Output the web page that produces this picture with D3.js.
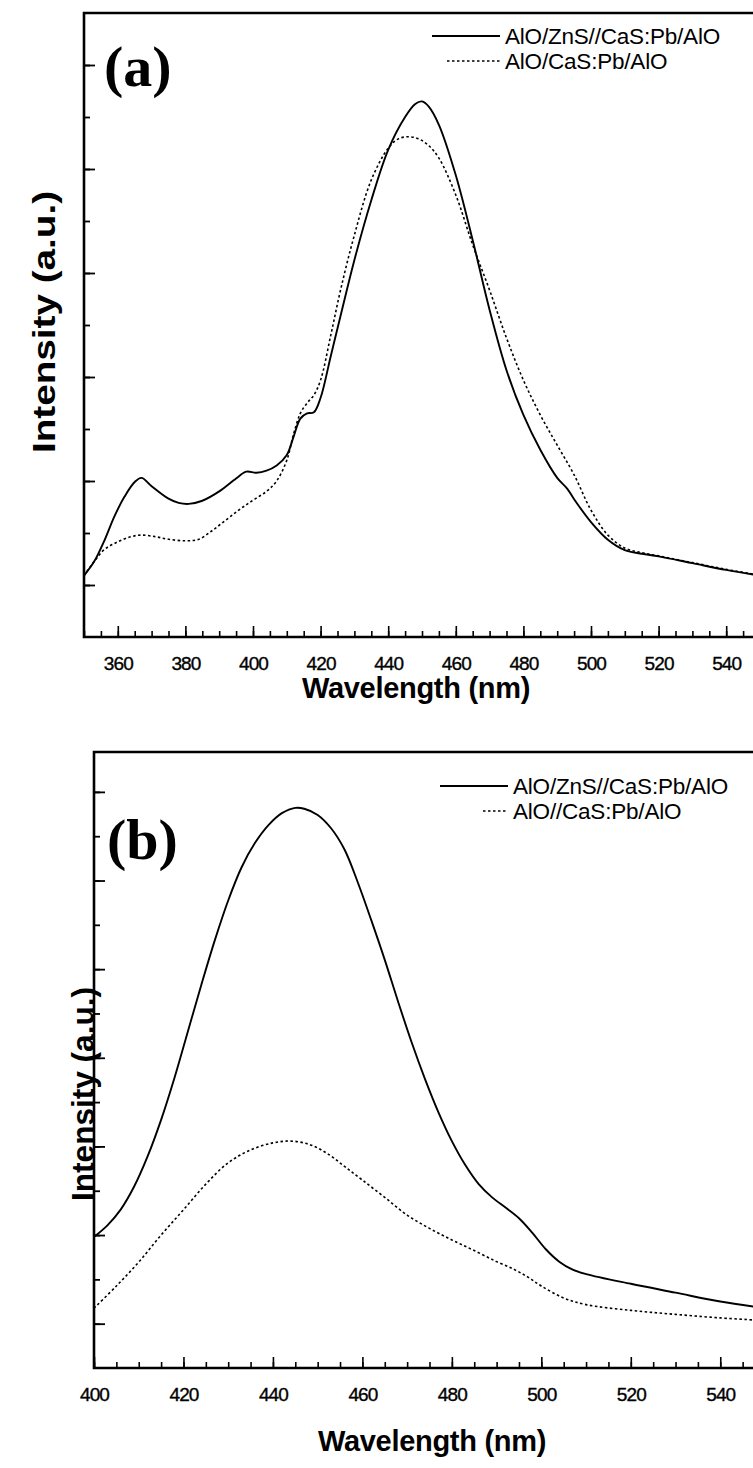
<!DOCTYPE html>
<html>
<head>
<meta charset="utf-8">
<script src="https://cdn.jsdelivr.net/npm/d3@7"></script>
<style>
  body { margin: 0; background: #fff; }
  svg { display: block; }
  text { font-family: "Liberation Sans", Arial, sans-serif; fill: #000; }
</style>
</head>
<body>
<svg id="chart" width="753" height="1468"></svg>
<script>
// panel (a)
const nmA      = [350,353,356,359,362,365,367,370,375,378,381,385,390,395,398,401,404,407,410,412,414,416,418,420,423,426,430,435,440,445,448,450,452,455,460,465,470,475,480,485,490,493,495,500,505,510,515,520,530,540,550];
const solidA   = [0.118,0.145,0.185,0.232,0.270,0.298,0.306,0.290,0.266,0.258,0.256,0.262,0.280,0.305,0.318,0.316,0.320,0.330,0.350,0.385,0.420,0.430,0.432,0.460,0.540,0.620,0.725,0.840,0.937,1.000,1.025,1.030,1.020,0.985,0.888,0.763,0.629,0.513,0.427,0.360,0.306,0.285,0.265,0.221,0.187,0.167,0.160,0.155,0.142,0.129,0.118];
const nmA2     = [350,353,356,360,364,367,371,375,380,384,388,392,396,400,404,407,410,412,414,416,418,420,423,426,430,435,440,443,446,449,452,455,460,465,470,475,480,485,490,495,500,505,510,515,520,530,540,550];
const dashedA  = [0.118,0.145,0.168,0.183,0.193,0.196,0.193,0.188,0.185,0.188,0.205,0.225,0.245,0.263,0.280,0.300,0.340,0.390,0.430,0.450,0.465,0.494,0.580,0.670,0.773,0.879,0.940,0.958,0.962,0.958,0.945,0.921,0.850,0.754,0.667,0.575,0.494,0.427,0.369,0.312,0.244,0.196,0.171,0.162,0.156,0.143,0.130,0.119];
const ticksA   = [360,380,400,420,440,460,480,500,520,540];
const legendA  = ["AlO/ZnS//CaS:Pb/AlO", "AlO/CaS:Pb/AlO"];

// panel (b)
const nmB      = [400,403,406,409,412,415,418,421,424,427,430,433,436,439,442,445,447,450,453,456,459,462,465,468,471,474,477,480,483,486,489,492,495,498,501,504,507,510,520,530,540,550];
const solidB   = [0.296,0.322,0.358,0.410,0.478,0.560,0.655,0.760,0.865,0.965,1.055,1.130,1.185,1.225,1.252,1.264,1.262,1.248,1.218,1.170,1.095,1.010,0.921,0.826,0.735,0.652,0.577,0.512,0.458,0.415,0.385,0.362,0.338,0.305,0.268,0.240,0.222,0.212,0.190,0.170,0.150,0.135];
const nmB2     = [400,405,410,415,420,425,430,435,440,444,448,452,456,460,465,470,475,480,485,490,494,497,500,505,510,520,530,540,550];
const dashedB  = [0.135,0.185,0.239,0.300,0.357,0.415,0.463,0.492,0.508,0.512,0.505,0.485,0.455,0.424,0.385,0.345,0.315,0.289,0.265,0.240,0.222,0.205,0.185,0.158,0.143,0.130,0.121,0.113,0.107];
const ticksB   = [400,420,440,460,480,500,520,540];
const legendB  = ["AlO/ZnS//CaS:Pb/AlO", "AlO//CaS:Pb/AlO"];

const svg = d3.select("#chart");

function drawPanel(p) {
    const x = d3.scaleLinear().domain(p.xDomain).range([p.left, p.right]);
    const y = d3.scaleLinear().domain([0, p.yMax]).range([p.bottom, p.top]);
    const g = svg.append("g");

    // minor x ticks (5 nm), pointing into the plot
    g.append("g")
        .attr("transform", `translate(0,${p.bottom})`)
        .call(d3.axisBottom(x).tickValues(d3.range(p.xDomain[0], p.xDomain[1] + 1, 5)).tickSizeInner(-6).tickSizeOuter(0).tickFormat(""))
        .call(a => a.select(".domain").remove())
        .selectAll("line").attr("stroke-width", 1.6);

    // major x ticks with labels
    g.append("g")
        .attr("transform", `translate(0,${p.bottom})`)
        .call(d3.axisBottom(x).tickValues(p.ticks).tickSizeInner(-11).tickSizeOuter(0).tickPadding(20))
        .call(a => a.select(".domain").remove())
        .call(a => a.selectAll("line").attr("stroke-width", 1.6))
        .call(a => a.selectAll("text")
            .attr("font-size", 19).attr("letter-spacing", -0.9)
            .attr("stroke", "#000").attr("stroke-width", 0.35)
            .style("font-family", "'Liberation Sans', Arial, sans-serif"));

    // y ticks: every 0.1, majors on odd tenths
    const yt = d3.range(0.1, p.yMax - 0.01, 0.1);
    g.append("g")
        .attr("transform", `translate(${p.left},0)`)
        .call(d3.axisLeft(y).tickValues(yt).tickSizeInner(-6).tickSizeOuter(0).tickFormat(""))
        .call(a => a.select(".domain").remove())
        .selectAll("line").attr("stroke-width", 1.8);
    g.append("g")
        .attr("transform", `translate(${p.left},0)`)
        .call(d3.axisLeft(y).tickValues(yt.filter((d, i) => i % 2 === 0)).tickSizeInner(-11).tickSizeOuter(0).tickFormat(""))
        .call(a => a.select(".domain").remove())
        .selectAll("line").attr("stroke-width", 1.8);

    // frame (right side falls outside the picture)
    g.append("path")
        .attr("d", `M${p.right + 10},${p.top}H${p.left}V${p.bottom}H${p.right + 10}`)
        .attr("fill", "none").attr("stroke", "#000").attr("stroke-width", 2.6);

    const line = d3.line().x(d => x(d[0])).y(d => y(d[1])).curve(d3.curveCatmullRom.alpha(0.5));

    g.append("path")
        .datum(d3.zip(p.nm2, p.dashed))
        .attr("d", line)
        .attr("fill", "none").attr("stroke", "#000").attr("stroke-width", 1.6)
        .attr("stroke-dasharray", "2.5,2.5");
    g.append("path")
        .datum(d3.zip(p.nm, p.solid))
        .attr("d", line)
        .attr("fill", "none").attr("stroke", "#000").attr("stroke-width", 1.9);

    // legend
    const lg = p.legend;
    g.append("line").attr("x1", lg.x1[0]).attr("x2", lg.x2).attr("y1", lg.y[0]).attr("y2", lg.y[0])
        .attr("stroke", "#000").attr("stroke-width", 1.8);
    g.append("line").attr("x1", lg.x1[1]).attr("x2", lg.x2).attr("y1", lg.y[1]).attr("y2", lg.y[1])
        .attr("stroke", "#000").attr("stroke-width", 1.6).attr("stroke-dasharray", "2.5,2.5");
    p.labels.forEach((t, i) => {
        g.append("text").attr("x", lg.x2 + 5).attr("y", lg.y[i]).attr("dy", "0.36em")
            .attr("font-size", 22.5).attr("letter-spacing", -0.2).text(t);
    });

    // panel letter
    g.append("text").attr("x", p.tag[0]).attr("y", p.tag[1])
        .style("font-family", "'Liberation Serif', 'Times New Roman', serif")
        .attr("font-weight", "bold").attr("font-size", 58).text(p.tagText);

    // axis titles
    g.append("text").attr("x", p.xTitle[0]).attr("y", p.xTitle[1]).attr("text-anchor", "middle")
        .attr("font-weight", "bold").attr("font-size", 29).attr("letter-spacing", -0.3)
        .text("Wavelength (nm)");
    g.append("text")
        .attr("transform", `translate(${p.yTitle[0]},${p.yTitle[1]}) rotate(-90)`)
        .attr("text-anchor", "middle")
        .attr("font-weight", "bold").attr("font-size", 32)
        .attr("textLength", p.yTitle[2]).attr("lengthAdjust", "spacingAndGlyphs")
        .text("Intensity (a.u.)");
}

drawPanel({
    xDomain: [350, 550], left: 84, right: 760, top: 13, bottom: 637, yMax: 1.2,
    nm: nmA, solid: solidA, nm2: nmA2, dashed: dashedA, ticks: ticksA, labels: legendA,
    legend: { x1: [432, 447], x2: 500, y: [36, 61] },
    tag: [104, 86], tagText: "(a)",
    xTitle: [416, 698], yTitle: [55, 322, 262]
});

drawPanel({
    xDomain: [400, 550], left: 94, right: 765, top: 752, bottom: 1368, yMax: 1.39,
    nm: nmB, solid: solidB, nm2: nmB2, dashed: dashedB, ticks: ticksB, labels: legendB,
    legend: { x1: [440, 483], x2: 508, y: [786, 811] },
    tag: [107, 859], tagText: "(b)",
    xTitle: [432, 1451], yTitle: [94, 1094, 214]
});
</script>
</body>
</html>
